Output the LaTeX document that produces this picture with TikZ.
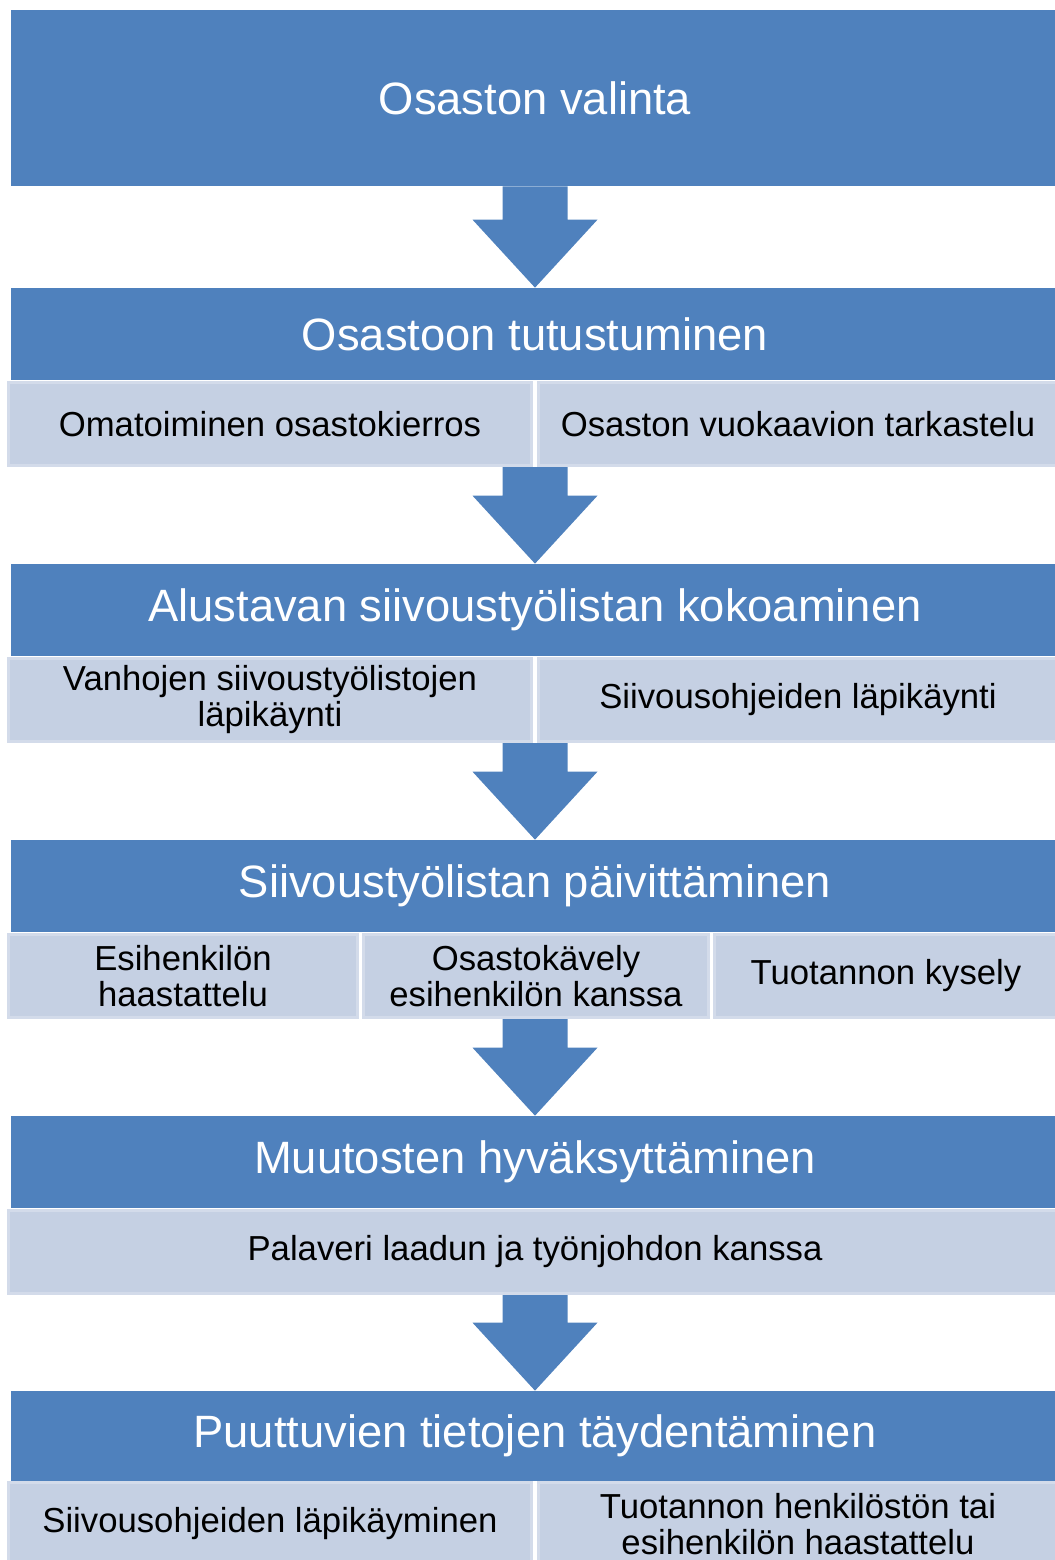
\documentclass[tikz,border=0pt]{standalone}
\usepackage{fontspec}
\setmainfont{Liberation Sans}
\usetikzlibrary{calc}
\usetikzlibrary{positioning}
\definecolor{headblue}{RGB}{79,129,189}
\definecolor{subfill}{RGB}{197,208,227}
\definecolor{subline}{RGB}{211,219,234}

% block arrow from one step to the next
\newcommand{\flowarrow}[2]{%
  \fill[headblue] ($(#1)+(-32.5,0)$) -- ($(#1)+(32.5,0)$) -- ($(#2)+(32.5,-68)$)
    -- ($(#2)+(62.5,-68)$) -- (#2) -- ($(#2)+(-62.5,-68)$) -- ($(#2)+(-32.5,-68)$) -- cycle;}

\begin{document}
\begin{tikzpicture}[x=0.02cm, y=-0.02cm,
    head/.style={fill=headblue, text=white, minimum width=20.96cm, minimum height=1.84cm,
      inner sep=0pt, font=\fontsize{25.8}{30}\selectfont},
    sub/.style={fill=subfill, draw=subline, line width=0.06cm, minimum height=1.66cm,
      inner sep=0pt, align=center, text=black, font=\fontsize{19.75}{20.5}\selectfont}]
  \useasboundingbox (0,0) rectangle (1055,1560);
  \clip (0,0) rectangle (1055,1560);

  \node[head, minimum height=3.52cm] (h1) at (535,98) {Osaston valinta};

  \node[head] (h2) at (535,334) {Osastoon tutustuminen};
  \node[sub, minimum width=10.46cm] (s2a) at (270,424) {Omatoiminen osastokierros};
  \node[sub, minimum width=10.38cm] (s2b) at (798,424) {Osaston vuokaavion tarkastelu};

  \node[head] (h3) at (535,610) {Alustavan siivoustyölistan kokoaminen};
  \node[sub, minimum width=10.46cm] (s3a) at (270,700) {Vanhojen siivoustyölistojen\\läpikäynti};
  \node[sub, minimum width=10.38cm] (s3b) at (798,700) {Siivousohjeiden läpikäynti};

  \node[head] (h4) at (535,886) {Siivoustyölistan päivittäminen};
  \node[sub, minimum width=6.98cm] (s4a) at (183,976) {Esihenkilön\\haastattelu};
  \node[sub, minimum width=6.9cm] (s4b) at (536,976) {Osastokävely\\esihenkilön kanssa};
  \node[sub, minimum width=6.86cm] (s4c) at (886,976) {Tuotannon kysely};

  \node[head] (h5) at (535,1162) {Muutosten hyväksyttäminen};
  \node[sub, minimum width=21.06cm] (s5a) at (535,1252) {Palaveri laadun ja työnjohdon kanssa};

  \node[head, minimum height=1.8cm] (h6) at (535,1436) {Puuttuvien tietojen täydentäminen};
  \node[sub, minimum width=10.46cm] (s6a) at (270,1524) {Siivousohjeiden läpikäyminen};
  \node[sub, minimum width=10.38cm] (s6b) at (798,1524) {Tuotannon henkilöstön tai\\esihenkilön haastattelu};

  \coordinate (e2) at (h2 |- s2a.south);
  \coordinate (e3) at (h3 |- s3a.south);
  \coordinate (e4) at (h4 |- s4b.south);
  \coordinate (e5) at (h5 |- s5a.south);

  \flowarrow{h1.south}{h2.north}
  \flowarrow{e2}{h3.north}
  \flowarrow{e3}{h4.north}
  \flowarrow{e4}{h5.north}
  \flowarrow{e5}{h6.north}
\end{tikzpicture}
\end{document}
